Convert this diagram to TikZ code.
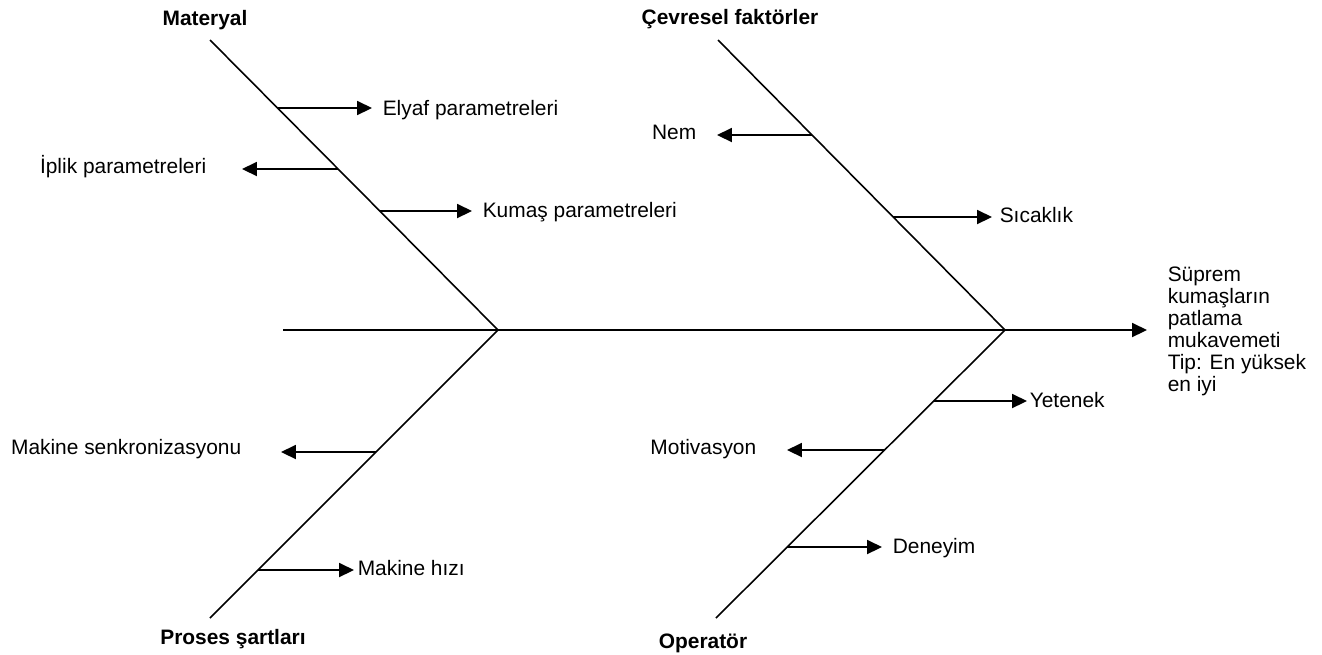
\documentclass[tikz,border=0pt]{standalone}
\usepackage{fontspec}
\setmainfont{Liberation Sans}
\usetikzlibrary{arrows.meta,positioning}
\begin{document}
\begin{tikzpicture}[x=0.02cm, y=-0.02cm, line width=0.9pt,
  font=\fontsize{11.9}{12.5}\selectfont,
  tip/.style={-{Triangle[length=8.5pt,width=8pt]}},
  lbl/.style={inner sep=0pt},
  hdr/.style={inner sep=0pt, anchor=base, font=\fontsize{11.9}{12.5}\selectfont\bfseries}]
\useasboundingbox (0,0) rectangle (1322,654);
% spine and bones
\coordinate (tail) at (283,330);
\coordinate (jl) at (498,330);
\coordinate (jr) at (1005,330);
\coordinate (head) at (1147,330);
\coordinate (matend) at (210,40);
\coordinate (cevend) at (718,40);
\coordinate (proend) at (210,618);
\coordinate (opend) at (716,618);
\draw (tail) -- (jr);
\draw[tip] (jr) -- (head);
\draw (matend) -- (jl) -- (proend);
\draw (cevend) -- (jr) -- (opend);
% headers
\node[hdr] (materyal) at (205,25) {Materyal};
\node[hdr] (cevresel) at (730,24) {Çevresel faktörler};
\node[hdr] (proses) at (233,644) {Proses şartları};
\node[hdr] (operator) at (703,648) {Operatör};
\node[lbl, anchor=north west, align=left] (effect) at (1167,266) {Süprem\\kumaşların\\patlama\\mukavemeti\\Tip: En yüksek\\en iyi};
% causes
\coordinate (elyafb) at (277,108);   \coordinate (elyaft) at (372,108);
\coordinate (iplikb) at (338,169);   \coordinate (iplikt) at (242,169);
\coordinate (kumasb) at (380,211);   \coordinate (kumast) at (472,211);
\coordinate (nemb) at (812,135);     \coordinate (nemt) at (717,135);
\coordinate (sicb) at (893,217);     \coordinate (sict) at (992,217);
\coordinate (senkb) at (376,452);    \coordinate (senkt) at (281,452);
\coordinate (hizb) at (258,570);     \coordinate (hizt) at (354,570);
\coordinate (yetb) at (934,401);     \coordinate (yett) at (1027,401);
\coordinate (motb) at (885,450);     \coordinate (mott) at (787,450);
\coordinate (deneb) at (787,547);    \coordinate (denet) at (882,547);
\draw[tip] (elyafb) -- (elyaft);
\draw[tip] (iplikb) -- (iplikt);
\draw[tip] (kumasb) -- (kumast);
\draw[tip] (nemb) -- (nemt);
\draw[tip] (sicb) -- (sict);
\draw[tip] (senkb) -- (senkt);
\draw[tip] (hizb) -- (hizt);
\draw[tip] (yetb) -- (yett);
\draw[tip] (motb) -- (mott);
\draw[tip] (deneb) -- (denet);
\node[lbl, anchor=base west] (elyaf) at (382,115) {Elyaf parametreleri};
\node[lbl, anchor=base east] (iplik) at (207,173) {İplik parametreleri};
\node[lbl, anchor=base west] (kumas) at (482,217) {Kumaş parametreleri};
\node[lbl, anchor=base east] (nem) at (697,139) {Nem};
\node[lbl, anchor=base west] (sicaklik) at (999,222) {Sıcaklık};
\node[lbl, anchor=base east] (senkron) at (242,454) {Makine senkronizasyonu};
\node[lbl, anchor=base west] (hiz) at (357,575) {Makine hızı};
\node[lbl, anchor=base west] (yetenek) at (1029,407) {Yetenek};
\node[lbl, anchor=base east] (motivasyon) at (757,454) {Motivasyon};
\node[lbl, anchor=base west] (deneyim) at (892,553) {Deneyim};
\end{tikzpicture}
\end{document}
